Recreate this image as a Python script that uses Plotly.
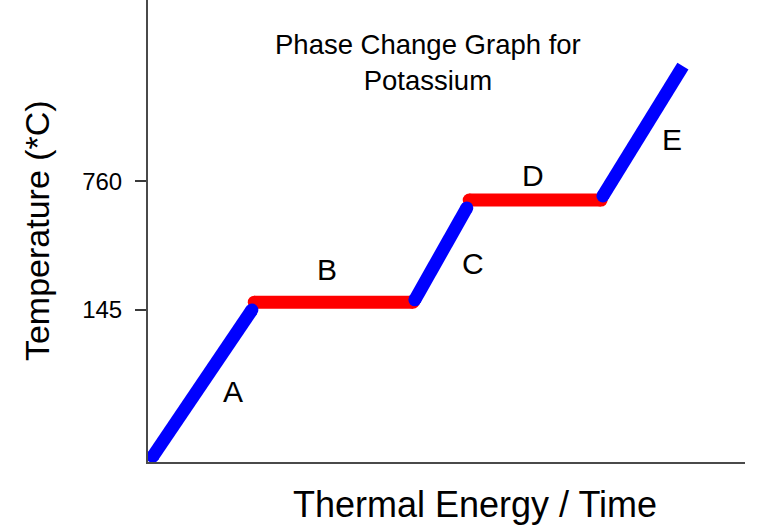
import plotly.graph_objects as go

# schematic heating curve (axis units 0-10)
phases = ["A", "B", "C", "D", "E"]
energy_start = [0.08, 1.78, 4.47, 5.38, 7.62]
energy_end = [1.74, 4.44, 5.34, 7.59, 8.96]
temp_start = [0.12, 3.46, 3.51, 5.67, 5.76]
temp_end = [3.29, 3.46, 5.50, 5.67, 8.57]
seg_colors = ["blue", "red", "blue", "red", "blue"]

# where the letters sit
label_x = [1.42, 3.00, 5.44, 6.45, 8.78]
label_y = [1.52, 4.16, 4.29, 6.21, 6.97]

# temperature ticks
tick_pos = [3.29, 6.08]
tick_text = ["145", "760"]

font = "Liberation Sans"
fig = go.Figure()

# plateaus first, slopes drawn over them
order = [i for i in range(5) if seg_colors[i] == "red"] + [i for i in range(5) if seg_colors[i] == "blue"]
for i in order:
    fig.add_trace(go.Scatter(
        x=[energy_start[i], energy_end[i]],
        y=[temp_start[i], temp_end[i]],
        mode="lines",
        line={"color": seg_colors[i], "width": 13},
        hoverinfo="skip",
        showlegend=False,
        cliponaxis=False,
    ))
    # round ends (the last one is cut off flat)
    ends_x = [energy_start[i]] if i == 4 else [energy_start[i], energy_end[i]]
    ends_y = [temp_start[i]] if i == 4 else [temp_start[i], temp_end[i]]
    fig.add_trace(go.Scatter(
        x=ends_x, y=ends_y, mode="markers",
        marker={"color": seg_colors[i], "size": 13, "line": {"width": 0}},
        hoverinfo="skip", showlegend=False, cliponaxis=False,
    ))

for name, lx, ly in zip(phases, label_x, label_y):
    fig.add_annotation(x=lx, y=ly, text=name, showarrow=False,
                       font={"size": 30, "color": "black", "family": font})

fig.add_annotation(xref="paper", yref="paper", x=0.469, y=0.942,
                   text="Phase Change Graph for<br>Potassium", showarrow=False,
                   font={"size": 27.5, "color": "black", "family": font})
fig.add_annotation(xref="paper", yref="paper", x=0.548, y=-0.141,
                   text="Thermal Energy / Time", showarrow=False,
                   font={"size": 36, "color": "black", "family": font})
fig.add_annotation(xref="paper", yref="paper", x=-0.221, y=0.50,
                   text="Temperature (*C)", showarrow=False, textangle=-90,
                   font={"size": 34, "color": "black", "family": font})

fig.update_layout(
    width=772, height=528,
    margin={"l": 148, "r": 27, "t": 0, "b": 66},
    paper_bgcolor="white", plot_bgcolor="white",
    font={"family": font, "color": "black"},
    xaxis={"range": [0, 10], "showgrid": False, "zeroline": False,
           "showline": True, "linecolor": "#4a4a4a", "linewidth": 2,
           "showticklabels": False, "ticks": ""},
    yaxis={"range": [0, 10], "showgrid": False, "zeroline": False,
           "showline": True, "linecolor": "#4a4a4a", "linewidth": 2,
           "tickmode": "array", "tickvals": tick_pos, "ticktext": tick_text,
           "ticks": "outside", "ticklen": 11, "tickwidth": 2, "tickcolor": "#3a3a3a",
           "tickfont": {"size": 24, "color": "black", "family": font},
           "ticklabelstandoff": 8},
)

fig.write_html("out.html", config={"displayModeBar": False},
               post_script="document.body.style.margin='0';")
